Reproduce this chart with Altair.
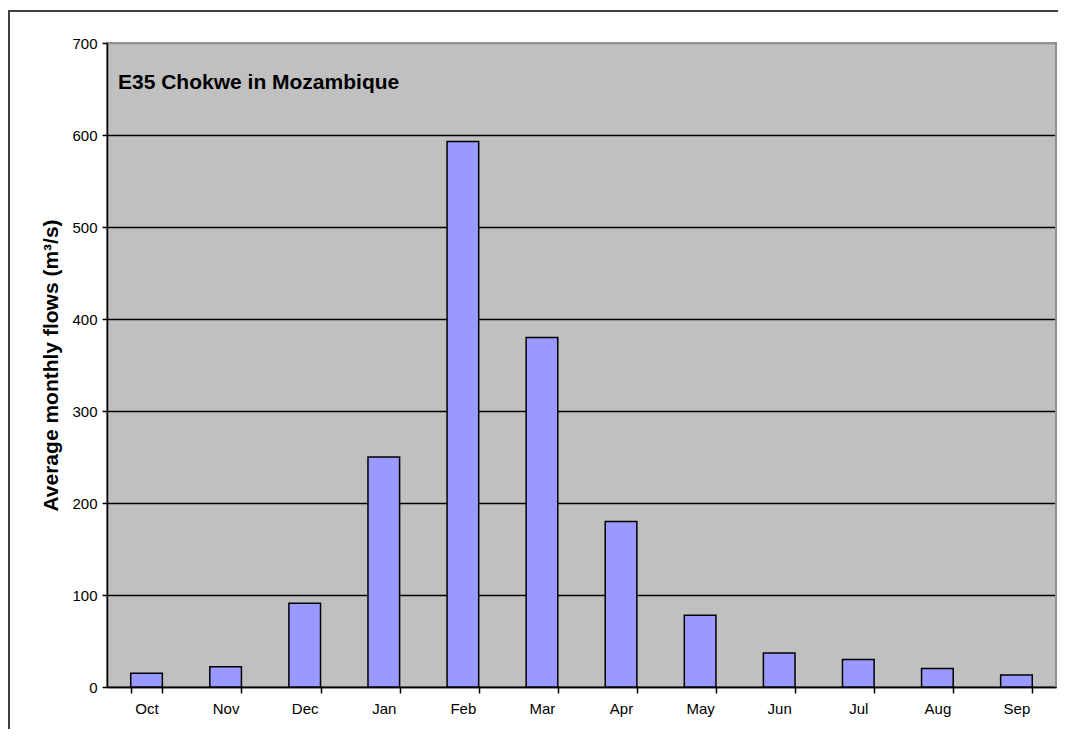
import altair as alt
import pandas as pd

months = ["Oct", "Nov", "Dec", "Jan", "Feb", "Mar", "Apr", "May", "Jun", "Jul", "Aug", "Sep"]
flows = [15, 22, 91, 250, 593, 380, 180, 78, 37, 30, 20, 13]
y_ticks = [0, 100, 200, 300, 400, 500, 600, 700]
chart_title = "E35 Chokwe in Mozambique"
y_title = "Average monthly flows (m³/s)"

FONT = "Liberation Sans"

df = pd.DataFrame({"month": months, "flow": flows})

bars = alt.Chart(df).mark_bar(
    color="#9999FF", stroke="black", strokeWidth=1.5
).encode(
    x=alt.X(
        "month:N",
        sort=months,
        scale=alt.Scale(paddingInner=0.6, paddingOuter=0.3),
        axis=alt.Axis(
            title=None, labelAngle=0, labelFont=FONT, labelFontSize=15,
            labelColor="black", labelPadding=8, tickSize=6, tickColor="black",
            tickWidth=1.5, tickBand="extent", domainColor="black",
            domainWidth=1.5, grid=False,
        ),
    ),
    y=alt.Y(
        "flow:Q",
        scale=alt.Scale(domain=[0, 700], nice=False),
        axis=alt.Axis(
            values=y_ticks, title=y_title, titleFont=FONT, titleFontSize=21,
            titleFontWeight="bold", titleColor="black", titlePadding=10,
            labelFont=FONT, labelFontSize=15, labelColor="black",
            labelPadding=5, tickSize=5, tickColor="black", tickWidth=1.5,
            domainColor="black", domainWidth=1.5, grid=True,
            gridColor=alt.condition(alt.datum.value == 700, alt.value("#909090"), alt.value("black")),
            gridWidth=1.5,
        ),
    ),
)

title_text = alt.Chart(pd.DataFrame({"t": [chart_title]})).mark_text(
    align="left", baseline="alphabetic", font=FONT, fontSize=21,
    fontWeight="bold", color="black",
).encode(text="t:N", x=alt.value(11), y=alt.value(46))

frame = alt.Chart(pd.DataFrame({"f": [0]})).mark_rect(
    fill=None, stroke="#404040", strokeWidth=2
).encode(
    x=alt.value(-98), x2=alt.value(980), y=alt.value(-32), y2=alt.value(720)
)

right_edge = alt.Chart(pd.DataFrame({"f": [0]})).mark_rule(
    color="#909090", strokeWidth=2
).encode(
    x=alt.value(949), y=alt.value(0), y2=alt.value(644)
)

chart = alt.layer(frame, bars, right_edge, title_text).properties(
    width=949, height=644,
    autosize=alt.AutoSizeParams(type="none"),
    padding={"left": 99, "top": 35, "right": 2, "bottom": 42},
    background="white",
).configure_view(
    fill="#C0C0C0", stroke="#909090", strokeWidth=2
)

chart.save("out.html", embed_options={"renderer": "svg", "actions": False})
